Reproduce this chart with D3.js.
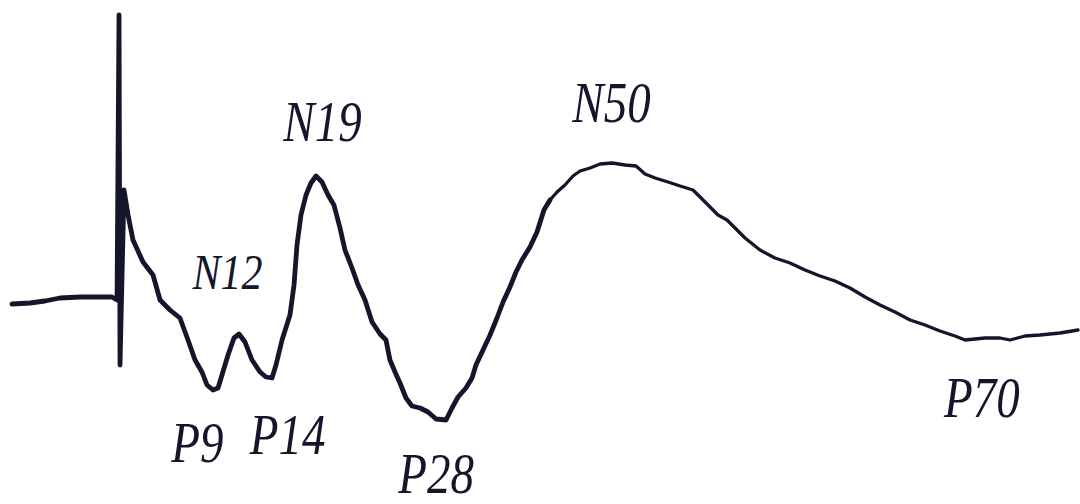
<!DOCTYPE html>
<html>
<head>
<meta charset="utf-8">
<script src="https://cdn.jsdelivr.net/npm/d3@7"></script>
<style>
  html, body { margin: 0; padding: 0; background: #ffffff; }
  svg { display: block; }
  .peak { font-family: "Liberation Serif", "Times New Roman", Times, serif; font-style: italic; }
</style>
</head>
<body>
<svg id="chart" width="1080" height="504"></svg>
<script>
// Time (ms) relative to stimulus, and amplitude (arbitrary units, up = negative polarity peak)
const timeMs = [
  -9.91, -8.27, -6.91, -5.55, -3.73, -1.91, -0.82, -0.36, -0.18, -0.09,
  0.27, 0.64, 1.09, 2.0, 2.91, 3.55, 4.45, 5.36, 6.09, 6.73,
  7.36, 7.82, 8.36, 8.82, 9.18, 9.73, 10.27, 10.73, 11.27, 11.91,
  12.64, 13.18, 13.73, 14.09, 14.64, 15.36, 15.73, 16.0, 16.36, 16.82,
  17.27, 17.73, 18.27, 18.82, 19.36, 19.91, 20.36, 21.0, 21.55, 22.18,
  22.82, 23.55, 24.09, 24.45, 24.91, 25.36, 25.91, 26.45, 27.18, 27.91,
  28.64, 29.55, 30.09, 30.64, 31.36, 31.91, 32.27, 32.91, 33.55, 34.18,
  34.73, 35.36, 35.91, 36.45, 37.18, 37.82, 38.45, 39.0, 39.64, 40.36,
  41.09, 41.73, 42.64, 43.55, 44.64, 45.82, 46.82, 47.64, 48.55, 49.73,
  50.82, 52.0, 52.64, 53.55, 54.27, 55.09, 55.82, 56.73, 58.09, 59.45,
  60.82, 62.18, 63.55, 64.91, 66.27, 67.64, 69.0, 70.36, 71.73, 73.09,
  74.45, 75.82, 76.73, 77.64, 78.55, 79.91, 80.82, 82.18, 83.55, 85.36,
  87.0
];
const amplitude = [
  -0.1, -0.075, -0.025, 0.05, 0.075, 0.075, 0.075, 0.0, 7.125, -1.625,
  2.75, 2.125, 1.5, 0.95, 0.625, 0.0, -0.25, -0.45, -1.0, -1.5,
  -1.8, -2.125, -2.25, -2.2, -1.875, -1.375, -0.95, -0.85, -1.05, -1.5,
  -1.8, -1.925, -1.95, -1.625, -1.0, -0.375, 0.375, 1.375, 2.125, 2.625,
  2.925, 3.1, 2.95, 2.625, 2.375, 1.8, 1.25, 0.8, 0.375, 0.0,
  -0.55, -0.85, -1.0, -1.5, -1.8, -2.075, -2.45, -2.65, -2.7, -2.8,
  -2.975, -3.0, -2.7, -2.425, -2.2, -1.95, -1.625, -1.25, -0.875, -0.45,
  -0.05, 0.325, 0.7, 1.0, 1.325, 1.7, 2.25, 2.5, 2.7, 2.875,
  3.1, 3.225, 3.3, 3.4, 3.425, 3.375, 3.35, 3.15, 3.05, 2.95,
  2.85, 2.75, 2.575, 2.325, 2.125, 2.0, 1.8, 1.55, 1.25, 1.05,
  0.925, 0.75, 0.6, 0.475, 0.3, 0.075, -0.125, -0.3, -0.5, -0.625,
  -0.775, -0.9, -1.0, -0.975, -0.95, -0.95, -1.0, -0.9, -0.875, -0.825,
  -0.75
];

// Peak labels and where they sit (in data units)
const peakNames = ["N12", "N19", "N50", "P9", "P14", "P28", "P70"];
const peakLabelTime = [9.68, 18.32, 44.59, 6.95, 15.14, 28.64, 78.27];
const peakLabelAmp = [0.275, 3.975, 4.45, -4.05, -3.85, -4.82, -2.925];

const W = 1080, H = 504;
const svg = d3.select("#chart");

const x = d3.scaleLinear().domain([-11, 87.18]).range([0, W]);
const y = d3.scaleLinear().domain([-5.1, 7.5]).range([H, 0]);

const pts = timeMs.map((t, i) => ({ t, v: amplitude[i] }));
const line = d3.line().x(d => x(d.t)).y(d => y(d.v)).curve(d3.curveLinear);

const ink = "#15152b";

// early part: thicker trace
const split = timeMs.findIndex(t => t >= 39.0);
svg.append("path")
  .datum(pts.slice(0, split + 1))
  .attr("d", line)
  .attr("fill", "none")
  .attr("stroke", ink)
  .attr("stroke-width", 4.8)
  .attr("stroke-linejoin", "round")
  .attr("stroke-linecap", "round");

svg.append("path")
  .datum(pts.slice(split))
  .attr("d", line)
  .attr("fill", "none")
  .attr("stroke", ink)
  .attr("stroke-width", 3.3)
  .attr("stroke-linejoin", "round")
  .attr("stroke-linecap", "round");

// labels
const labels = peakNames.map((n, i) => ({ n, t: peakLabelTime[i], v: peakLabelAmp[i] }));
svg.selectAll("text.peak")
  .data(labels)
  .enter()
  .append("text")
  .attr("class", "peak")
  .attr("transform", d => `translate(${x(d.t)},${y(d.v)}) scale(0.84,1)`)
  .attr("text-anchor", "middle")
  .attr("font-size", d => d.n === "N12" ? 50 : 56)
  .attr("fill", ink)
  .text(d => d.n);
</script>
</body>
</html>
